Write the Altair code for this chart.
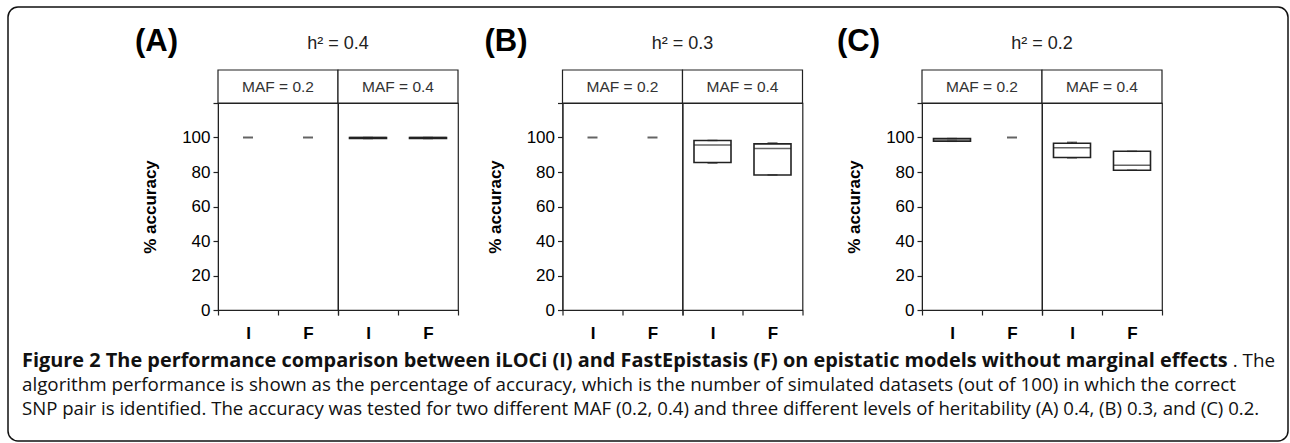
import altair as alt
import pandas as pd

# ---------------- data ----------------
panel_ids = ["A", "B", "C"]
heritability = ["0.4", "0.3", "0.2"]

group_panel = ["A"] * 4 + ["B"] * 4 + ["C"] * 4
group_maf = ["0.2", "0.2", "0.4", "0.4"] * 3
group_method = ["I", "F", "I", "F"] * 3
acc_low = [100, 100, 99.4, 99.4, 100, 100, 85.2, 78.3, 97.8, 100, 88.2, 81.0]
acc_q1 = [100, 100, 99.4, 99.4, 100, 100, 85.5, 78.3, 97.8, 100, 88.4, 81.0]
acc_median = [100, 100, 100, 100, 100, 100, 95.7, 93.6, 98.6, 100, 94.0, 83.9]
acc_q3 = [100, 100, 100, 100, 100, 100, 98.3, 96.3, 99.4, 100, 96.7, 92.0]
acc_high = [100, 100, 100, 100, 100, 100, 98.3, 96.8, 99.4, 100, 97.2, 92.0]

y_ticks = [0, 20, 40, 60, 80, 100, 120]

caption_bold = ("Figure 2 The performance comparison between iLOCi (I) and FastEpistasis (F) "
                "on epistatic models without marginal effects")
caption_tail = ". The"
caption_line2 = ("algorithm performance is shown as the percentage of accuracy, which is the number "
                 "of simulated datasets (out of 100) in which the correct")
caption_line3 = ("SNP pair is identified. The accuracy was tested for two different MAF (0.2, 0.4) "
                 "and three different levels of heritability (A) 0.4, (B) 0.3, and (C) 0.2.")

df = pd.DataFrame({
    "panel": group_panel, "maf": group_maf, "method": group_method,
    "lo": acc_low, "q1": acc_q1, "med": acc_median, "q3": acc_q3, "hi": acc_high,
})

# ---------------- style ----------------
FONT = "Liberation Sans"
CAP_FONT = "Open Sans"
INK = "#222222"
CELL_W = 120
CELL_H = 207
STRIP_H = 33
BOX_W = 37
DASH_W = 10

letter_dx = {"A": -83, "B": -78, "C": -85}


def panel_chart(pid, h2):
    d = df[df.panel == pid]
    x = alt.X("method:N", sort=["I", "F"],
              scale=alt.Scale(paddingInner=0, paddingOuter=0),
              axis=alt.Axis(title=None, labelAngle=0, tickBand="extent",
                            labelFont=FONT, labelFontSize=17, labelFontWeight="bold",
                            labelColor="black", labelPadding=10, tickSize=5,
                            tickColor=INK, domainColor=INK, tickWidth=1.2))
    yscale = alt.Scale(domain=[0, 120], nice=False)
    yaxis = alt.Axis(values=y_ticks, labelExpr="datum.value >= 120 ? '' : datum.label",
                     title="% accuracy", titleFont=FONT, titleFontSize=17,
                     titleFontWeight="bold", titleColor="black", titlePadding=22,
                     labelFont=FONT, labelFontSize=17, labelColor="black",
                     labelPadding=3, tickSize=5, tickColor=INK, domainColor=INK,
                     grid=False, tickWidth=1.2)

    def Y(field):
        return alt.Y(f"{field}:Q", scale=yscale, axis=yaxis)

    base = alt.Chart()
    is_box = "datum.q1 < datum.q3"
    is_flat = "datum.q1 == datum.q3"
    first_cell = "datum.maf == '0.2' && datum.method == 'I'"

    strip = base.transform_filter("datum.method == 'I'").mark_rect(
        fill="white", stroke=INK, strokeWidth=1.2
    ).encode(x=alt.value(0), x2=alt.value(CELL_W), y=alt.value(-STRIP_H), y2=alt.value(0))
    strip_text = base.transform_filter("datum.method == 'I'").transform_calculate(
        strip_label="'MAF = ' + datum.maf"
    ).mark_text(font=FONT, fontSize=15.5, color="#333333", baseline="middle").encode(
        x=alt.value(CELL_W / 2), y=alt.value(-STRIP_H / 2), text="strip_label:N")

    whisk_lo = base.transform_filter(is_box).mark_rule(color=INK, strokeWidth=1.2).encode(
        x=x, y=Y("lo"), y2="q1:Q")
    whisk_hi = base.transform_filter(is_box).mark_rule(color=INK, strokeWidth=1.2).encode(
        x=x, y=Y("q3"), y2="hi:Q")
    box = base.transform_filter(is_box).mark_bar(
        size=BOX_W, fill="white", stroke=INK, strokeWidth=1.6
    ).encode(x=x, y=Y("q1"), y2="q3:Q")
    median = base.transform_filter(is_box).mark_tick(
        size=BOX_W, thickness=1.5, color=INK).encode(x=x, y=Y("med"))
    cap_lo = base.transform_filter(is_box).mark_tick(
        size=DASH_W, thickness=1.5, color=INK).encode(x=x, y=Y("lo"))
    cap_hi = base.transform_filter(is_box).mark_tick(
        size=DASH_W, thickness=1.5, color=INK).encode(x=x, y=Y("hi"))
    flat = base.transform_filter(is_flat).mark_tick(
        size=DASH_W, thickness=2, color=INK).encode(x=x, y=Y("med"))

    letter = base.transform_filter(first_cell).mark_text(
        text=f"({pid})", font=FONT, fontSize=31, fontWeight="bold", align="left",
        baseline="middle", color="black"
    ).encode(x=alt.value(letter_dx[pid]), y=alt.value(-61))
    h2_text = base.transform_filter(first_cell).mark_text(
        text=f"h\u00b2 = {h2}", font=FONT, fontSize=18, align="center",
        baseline="middle", color="#222222"
    ).encode(x=alt.value(CELL_W), y=alt.value(-59))

    layered = alt.layer(strip, strip_text, whisk_lo, whisk_hi, box, median, cap_lo,
                        cap_hi, flat, letter, h2_text, data=d).properties(
        width=CELL_W, height=CELL_H)
    return layered.facet(
        column=alt.Column("maf:N", title=None, header=alt.Header(labels=False)),
        spacing=0, bounds="flush")


pA = panel_chart("A", heritability[0])
pB = panel_chart("B", heritability[1])
pC = panel_chart("C", heritability[2])

panels = alt.hconcat(pA, alt.hconcat(pB, pC, spacing=31.5), spacing=23.5)

# caption frame: its origin coincides with the top-left of panel A's first plot cell
OX, OY = 218, 103

one = alt.Data(values=[{"k": 1}])
cap_base = alt.Chart(one)
border = cap_base.mark_rect(
    fill="white", fillOpacity=0, stroke="#111111", strokeWidth=1.5, cornerRadius=10
).encode(x=alt.value(8 - OX), x2=alt.value(1288 - OX), y=alt.value(7 - OY), y2=alt.value(441 - OY))
line1 = cap_base.mark_text(
    text=caption_bold, font=CAP_FONT, fontSize=19.9, fontWeight="bold", align="left",
    baseline="middle", color="#111111"
).encode(x=alt.value(22 - OX), y=alt.value(361 - OY))
line1b = cap_base.mark_text(
    text=caption_tail, font=CAP_FONT, fontSize=18.8, align="right",
    baseline="middle", color="#111111"
).encode(x=alt.value(1275 - OX), y=alt.value(361 - OY))
line2 = cap_base.mark_text(
    text=caption_line2, font=CAP_FONT, fontSize=18.8, align="left",
    baseline="middle", color="#111111"
).encode(x=alt.value(22 - OX), y=alt.value(385 - OY))
line3 = cap_base.mark_text(
    text=caption_line3, font=CAP_FONT, fontSize=18.6, align="left",
    baseline="middle", color="#111111"
).encode(x=alt.value(22 - OX), y=alt.value(409 - OY))

caption = alt.layer(border, line1, line1b, line2, line3).properties(
    width=1, height=1, view=alt.ViewBackground(strokeOpacity=0))

chart = alt.vconcat(panels, caption, spacing=0, bounds="flush").properties(
    padding={"left": 7, "top": 6, "right": 0, "bottom": 0},
    background="white",
).configure_view(stroke=INK, strokeWidth=1.2)

chart.save("out.html", embed_options={"renderer": "svg", "actions": False})
